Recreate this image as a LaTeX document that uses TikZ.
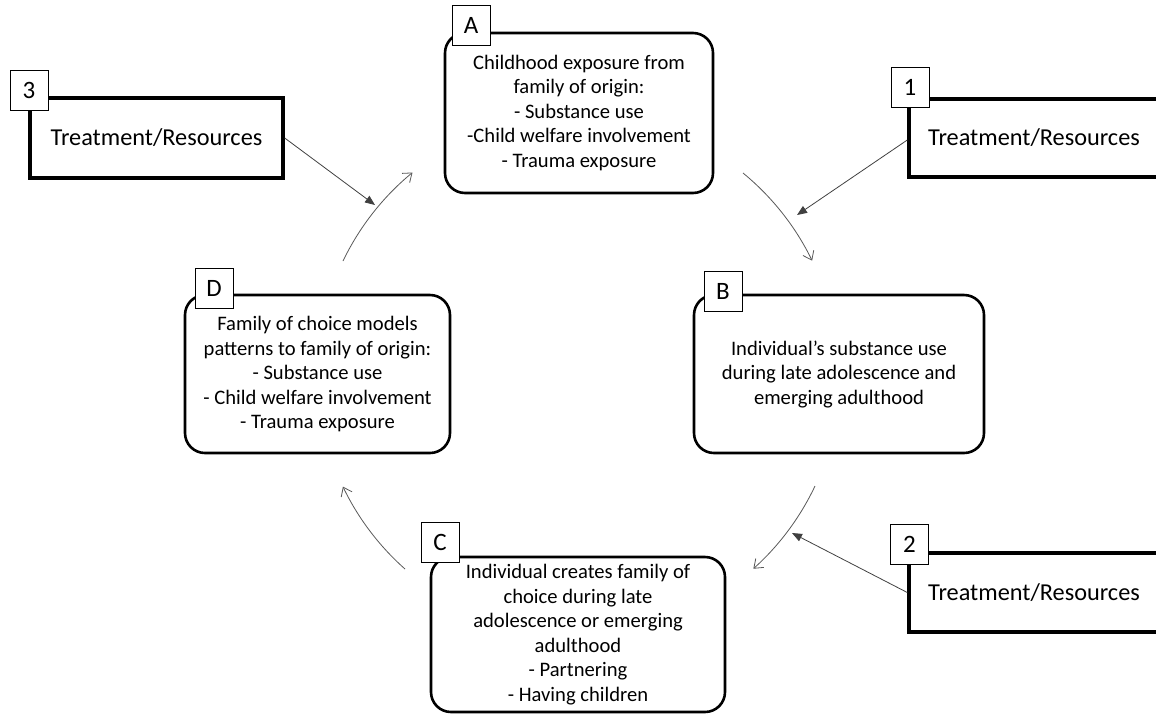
\documentclass[tikz,border=0pt]{standalone}
\usepackage{fontspec}
\setmainfont{Carlito}
\usetikzlibrary{arrows.meta}
\begin{document}
\begin{tikzpicture}[x=1pt,y=-1pt,
  stage/.style={draw, line width=2.6pt, rounded corners=20pt, align=center,
    font=\fontsize{20.6}{24.5}\selectfont, inner sep=0pt},
  treat/.style={draw, line width=3.4pt, font=\fontsize{24.3}{28}\selectfont, inner sep=0pt},
  tag/.style={draw, line width=0.9pt, fill=white, minimum width=38pt, minimum height=40pt,
    inner sep=0pt, font=\fontsize{25}{28}\selectfont},
  cyc/.style={draw=black!65, line width=0.8pt, -{Straight Barb[length=8pt,width=12pt]}},
  hit/.style={draw=black!75, line width=0.8pt, -{Triangle[length=10pt,width=8pt]}}
]
\useasboundingbox (0,0) rectangle (1156,713);
\clip (0,0) rectangle (1156,713);

% stage boxes
\node[stage, minimum width=268pt, minimum height=160pt] (A) at (579,113)
  {Childhood exposure from\\family of origin:\\- Substance use\\-Child welfare involvement\\- Trauma exposure};
\node[stage, minimum width=290pt, minimum height=158pt] (B) at (839,374)
  {Individual’s substance use\\during late adolescence and\\emerging adulthood};
\node[stage, minimum width=294pt, minimum height=155pt] (C) at (578,634.5)
  {Individual creates family of\\choice during late\\adolescence or emerging\\adulthood\\- Partnering\\- Having children};
\node[stage, minimum width=265pt, minimum height=158pt] (D) at (317.5,374)
  {Family of choice models\\patterns to family of origin:\\- Substance use\\- Child welfare involvement\\- Trauma exposure};

% treatment boxes
\node[treat, minimum width=253pt, minimum height=80pt] (T3) at (156.5,138) {Treatment/Resources};
\node[treat, minimum width=250pt, minimum height=78pt] (T1) at (1034,138) {Treatment/Resources};
\node[treat, minimum width=250pt, minimum height=79pt] (T2) at (1034,592.5) {Treatment/Resources};

% tags
\node[tag] (tA) at (471,25) {A};
\node[tag] (tB) at (723,291) {B};
\node[tag] (tC) at (440,542.5) {C};
\node[tag] (tD) at (214,288) {D};
\node[tag] (t3) at (29,90) {3};
\node[tag] (t1) at (910,87) {1};
\node[tag] (t2) at (909.5,544) {2};

% cycle arrows (arcs around the common centre)
\coordinate (cDA) at (343,261);
\coordinate (cAB) at (743,173);
\coordinate (cBC) at (815,486);
\coordinate (cCD) at (405,569);
\draw[cyc] (cDA) arc[start angle=205.7, end angle=230.6, radius=261];
\draw[cyc] (cAB) arc[start angle=309.4, end angle=334.1, radius=261];
\draw[cyc] (cBC) arc[start angle=25.3, end angle=48.1, radius=261];
\draw[cyc] (cCD) arc[start angle=131.6, end angle=154.4, radius=261];

% treatment arrows
\coordinate (h3) at (375,205);
\coordinate (h1) at (797,215);
\coordinate (h2) at (792,533);
\draw[hit] (T3.east) -- (h3);
\draw[hit] ([yshift=-2pt]T1.west) -- (h1);
\draw[hit] (T2.west) -- (h2);
\end{tikzpicture}
\end{document}
